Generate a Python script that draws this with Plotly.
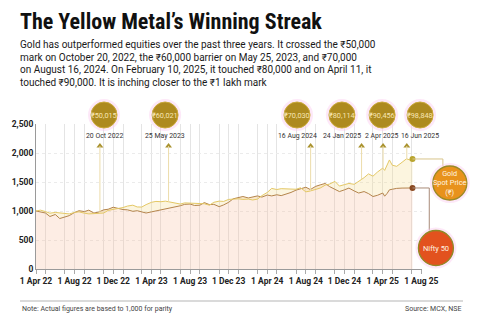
import plotly.graph_objects as go
import pandas as pd
import numpy as np

# ---------------- data ----------------
dates = [
    "2022-04-01","2022-04-15","2022-05-01","2022-05-15","2022-06-01","2022-06-15","2022-07-01","2022-07-15",
    "2022-08-01","2022-08-15","2022-09-01","2022-09-15","2022-10-01","2022-10-15","2022-11-01","2022-11-15",
    "2022-12-01","2022-12-15",
    "2023-01-01","2023-01-15","2023-02-01","2023-02-15","2023-03-01","2023-03-15","2023-04-01","2023-04-15",
    "2023-05-01","2023-05-15","2023-06-01","2023-06-15","2023-07-01","2023-07-15","2023-08-01","2023-08-15",
    "2023-09-01","2023-09-15","2023-10-01","2023-10-15","2023-11-01","2023-11-15","2023-12-01","2023-12-15",
    "2024-01-01","2024-01-15","2024-02-01","2024-02-15","2024-03-01","2024-03-15","2024-04-01","2024-04-15",
    "2024-05-01","2024-05-15","2024-06-01","2024-06-15","2024-07-01","2024-07-15","2024-08-01","2024-08-15",
    "2024-09-01","2024-09-15","2024-10-01","2024-10-15","2024-11-01","2024-11-15","2024-12-01","2024-12-15",
    "2025-01-01","2025-01-15","2025-02-01","2025-02-15","2025-03-01","2025-03-15","2025-04-01","2025-04-07",
    "2025-04-15","2025-04-22","2025-05-01","2025-05-15","2025-06-01","2025-06-15","2025-07-01","2025-07-04",
]
gold = [
    1000,1015,990,962,975,970,965,950,975,985,962,950,955,958,965,1010,1025,1045,
    1060,1085,1100,1070,1068,1110,1150,1165,1160,1170,1150,1135,1120,1140,1135,1125,1130,1125,1100,1150,1170,1165,1200,1205,
    1210,1200,1205,1190,1205,1265,1320,1390,1370,1385,1380,1370,1375,1400,1330,1345,1370,1395,1445,1465,1510,1430,1455,1475,
    1460,1510,1575,1640,1600,1670,1740,1700,1800,1880,1790,1770,1840,1900,1870,1897,
]
nifty = [
    1000,980,965,905,940,870,900,920,975,1005,990,1015,965,980,1020,1030,1065,1045,
    1025,1020,995,1005,980,965,985,1000,1025,1040,1050,1070,1090,1115,1120,1095,1100,1145,1110,1115,1075,1105,1150,1210,
    1230,1250,1225,1245,1260,1240,1275,1260,1280,1265,1290,1320,1360,1385,1410,1370,1425,1450,1475,1420,1375,1335,1365,1395,
    1345,1310,1335,1300,1250,1270,1310,1255,1305,1365,1375,1390,1395,1400,1405,1397,
]
milestone_dates = ["2022-10-20","2023-05-25","2024-08-16","2025-01-24","2025-04-02","2025-06-16"]
milestone_prices = ["₹50,015","₹60,021","₹70,030","₹80,114","₹90,456","₹98,848"]
milestone_labels = ["20 Oct 2022","25 May 2023","16 Aug 2024","24 Jan 2025","2 Apr 2025","16 Jun 2025"]
y_ticks = [0, 500, 1000, 1500, 2000, 2500]

# ---------------- layout constants ----------------
W, H = 480, 325
L, R, T, B = 36, 422, 124, 269
X0, X1 = pd.Timestamp("2022-04-01"), pd.Timestamp("2025-08-03")
YMAX = 2500
# label placement (layout, not data)
bubble_x = ["2022-11-02","2023-05-14","2024-07-04","2024-11-23","2025-03-30","2025-07-28"]
BUBBLE_Y, LABEL_Y, ARROW_Y = 2655, 2293, 2120
gold_leg = ("2025-10-30", 1483)
nifty_leg = ("2025-09-16", 362)
gold_corner_x, nifty_corner_x = "2025-10-08", "2025-08-26"

def px(x):
    return (x - L) / (R - L)
def py(y):
    return (B - y) / (B - T)
def xfrac(d):
    return (pd.Timestamp(d) - X0) / (X1 - X0)
def yfrac(v):
    return v / YMAX

FONT = "Roboto, 'Noto Sans', sans-serif"
GOLD_LINE = "#e4c865"
NIFTY_LINE = "#b4844c"

fig = go.Figure()
fig.add_trace(go.Scatter(x=dates, y=nifty, mode="lines", line=dict(color=NIFTY_LINE, width=1),
                         fill="tozeroy", fillcolor="rgba(248,188,155,0.27)", hoverinfo="skip"))
fig.add_trace(go.Scatter(x=dates, y=gold, mode="lines", line=dict(color=GOLD_LINE, width=1),
                         fill="tonexty", fillcolor="rgba(246,220,140,0.28)", hoverinfo="skip"))
# end markers
fig.add_trace(go.Scatter(x=[dates[-1]], y=[gold[-1]], mode="markers",
                         marker=dict(color="#b9a530", size=6), hoverinfo="skip"))
fig.add_trace(go.Scatter(x=[dates[-1]], y=[nifty[-1]], mode="markers",
                         marker=dict(color="#8a4a22", size=6), hoverinfo="skip"))

# milestone connectors
dnum = pd.to_datetime(dates).astype("int64").to_numpy()
shapes = []
for d in milestone_dates:
    gv = float(np.interp(pd.Timestamp(d).value, dnum, gold))
    shapes.append(dict(type="line", xref="x", yref="y", x0=d, x1=d, y0=gv, y1=ARROW_Y,
                       line=dict(color="#ecdcaa", width=1), layer="above"))
# arrows
fig.add_trace(go.Scatter(x=milestone_dates, y=[ARROW_Y]*len(milestone_dates), mode="markers",
                         marker=dict(symbol="triangle-up", size=6, color="#a9922e"), hoverinfo="skip"))

ann = []

def bubble(xd, yv, r, fill, border, text, tsize, tcolor, bw=1.0):
    xa, ya = xfrac(xd), yfrac(yv)
    shapes.append(dict(type="circle", xref="paper", yref="paper", xsizemode="pixel", ysizemode="pixel",
                       xanchor=xa, yanchor=ya, x0=-(r + 3), x1=r + 3, y0=-(r + 3), y1=r + 3,
                       fillcolor="rgba(250,205,240,0.45)", line=dict(width=0), layer="above"))
    shapes.append(dict(type="circle", xref="paper", yref="paper", xsizemode="pixel", ysizemode="pixel",
                       xanchor=xa, yanchor=ya, x0=-r, x1=r, y0=-r, y1=r,
                       fillcolor=fill, line=dict(color=border, width=bw), layer="above"))
    ann.append(dict(x=xa, y=ya, xref="paper", yref="paper", text=text, showarrow=False,
                    xanchor="center", yanchor="middle",
                    font=dict(family=FONT, size=tsize, color=tcolor)))

for bx, price in zip(bubble_x, milestone_prices):
    bubble(bx, BUBBLE_Y, 13, "#ad8a1f", "#c9a93a", price, 7.3, "#f8e6b4")

# connectors to legend bubbles (paper coords)
g_r, n_r = 17, 17.5
ppu = (B - T) / YMAX
shapes.append(dict(type="path", xref="paper", yref="paper",
                   path=f"M {xfrac(dates[-1])},{yfrac(gold[-1])} L {xfrac(gold_corner_x)},{yfrac(gold[-1])} "
                        f"L {xfrac(gold_corner_x)},{yfrac(gold_leg[1] + g_r/ppu)}",
                   line=dict(color="#d8c48a", width=1)))
shapes.append(dict(type="path", xref="paper", yref="paper",
                   path=f"M {xfrac(dates[-1])},{yfrac(nifty[-1])} L {xfrac(nifty_corner_x)},{yfrac(nifty[-1])} "
                        f"L {xfrac(nifty_corner_x)},{yfrac(nifty_leg[1] + n_r/ppu)}",
                   line=dict(color="#a88a78", width=1)))

bubble(gold_leg[0], gold_leg[1], g_r, "#e8921c", "#9a8a26", "Gold<br>Spot Price<br>(₹)", 7.3, "#fff4e0", 1.3)
bubble(nifty_leg[0], nifty_leg[1], n_r, "#e2521e", "#8f8a26", "Nifty 50", 7.5, "#fff4e0", 1.3)

for bx, lab in zip(bubble_x, milestone_labels):
    ann.append(dict(x=bx, y=LABEL_Y, xref="x", yref="y", text=lab, showarrow=False,
                    font=dict(family=FONT, size=6.9, color="#333333")))

ann.append(dict(x=px(18), y=py(22), xref="paper", yref="paper", xanchor="left", yanchor="middle",
                text="<b>The Yellow Metal’s Winning Streak</b>", showarrow=False,
                font=dict(family="'Liberation Sans Narrow', 'Roboto Condensed', Roboto", size=22, color="#111111")))
sub_lines = [
    "Gold has outperformed equities over the past three years. It crossed the ₹50,000",
    "mark on October 20, 2022, the ₹60,000 barrier on May 25, 2023, and ₹70,000",
    "on August 16, 2024. On February 10, 2025, it touched ₹80,000 and on April 11, it",
    "touched ₹90,000. It is inching closer to the ₹1 lakh mark",
]
for i, s in enumerate(sub_lines):
    ann.append(dict(x=px(18), y=py(44.5 + 12.5 * i), xref="paper", yref="paper", xanchor="left",
                    yanchor="middle", text=s, showarrow=False,
                    font=dict(family=FONT, size=10.0, color="#1a1a1a")))
ann.append(dict(x=px(20), y=py(308.5), xref="paper", yref="paper", xanchor="left", yanchor="middle",
                text="Note: Actual figures are based to 1,000 for parity", showarrow=False,
                font=dict(family=FONT, size=7, color="#444444")))
ann.append(dict(x=px(463), y=py(308.5), xref="paper", yref="paper", xanchor="right", yanchor="middle",
                text="Source: MCX, NSE", showarrow=False,
                font=dict(family=FONT, size=7, color="#444444")))
shapes.append(dict(type="line", xref="paper", yref="paper", x0=px(20), x1=px(463), y0=py(301), y1=py(301),
                   line=dict(color="#b5b5b5", width=1)))

fig.update_layout(
    width=W, height=H,
    margin=dict(l=L, r=W - R, t=T, b=H - B, pad=0),
    paper_bgcolor="white", plot_bgcolor="rgba(0,0,0,0)",
    showlegend=False,
    shapes=shapes, annotations=ann,
    xaxis=dict(type="date", range=[X0, X1], tick0="2022-04-01", dtick="M4", tickformat="%-d %b %y",
               showgrid=True, gridcolor="#e4e4e4", gridwidth=1,
               ticks="outside", ticklen=4, tickcolor="#aaaaaa",
               minor=dict(dtick="M2", showgrid=True, gridcolor="#e4e4e4", ticks="outside", ticklen=4,
                          tickcolor="#aaaaaa"),
               showline=True, linecolor="#9a9a9a", linewidth=1, zeroline=False,
               tickfont=dict(family=FONT, size=8.5, color="#222222", weight="bold")),
    yaxis=dict(range=[0, YMAX], tickvals=y_ticks, tickformat=",", showgrid=True, gridcolor="#ebebeb",
               griddash="dot", showline=True, linecolor="#9a9a9a", linewidth=1, zeroline=False,
               ticks="", tickfont=dict(family=FONT, size=8.5, color="#222222", weight="bold")),
)

fig.write_html("out.html")
